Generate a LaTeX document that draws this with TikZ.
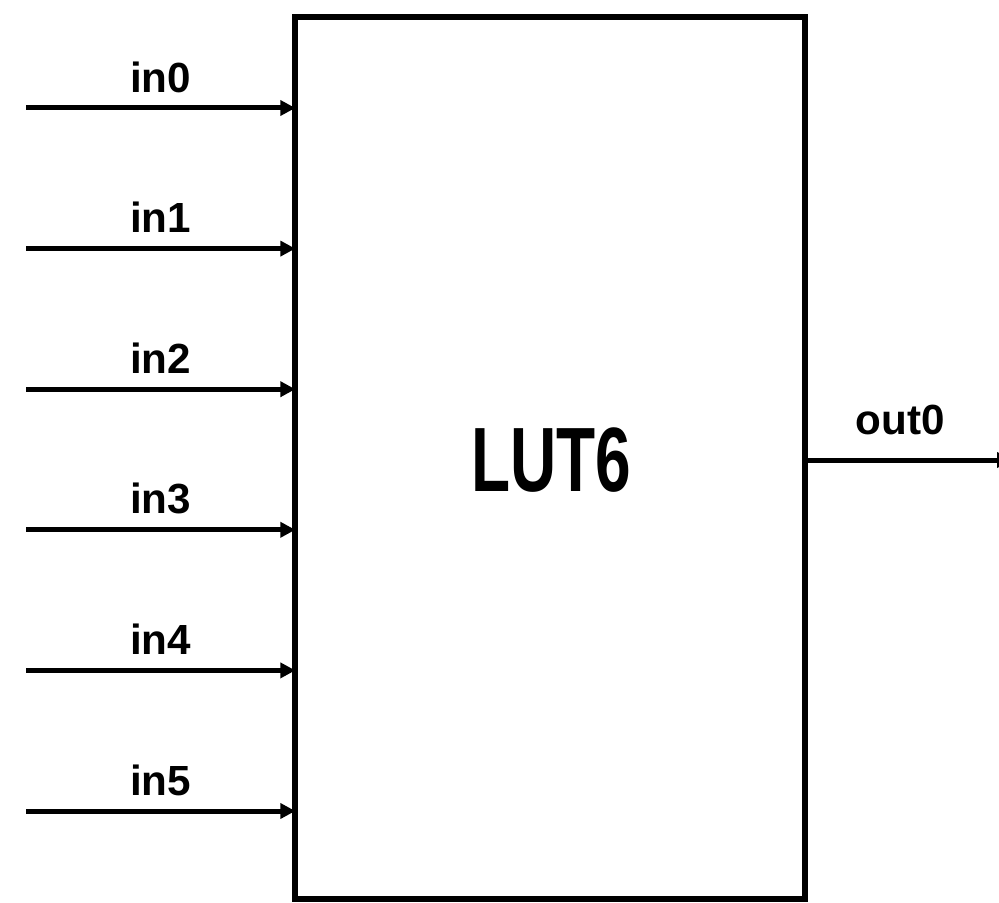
\documentclass[tikz,border=0pt]{standalone}
\usepackage{fontspec}
\setmainfont{Liberation Sans}
\usetikzlibrary{arrows.meta,positioning}

\tikzset{
    wire/.style={line width=0.1cm, -{Triangle[length=0.3cm,width=0.3cm]}},
    pinlabel/.style={font=\fontsize{24}{28}\selectfont\bfseries, inner sep=0pt, anchor=base},
}

\begin{document}
\begin{tikzpicture}[x=0.02cm,y=-0.02cm]
    \def\picwidth{999}
    \def\picheight{902}

    \useasboundingbox (0,0) rectangle (\picwidth,\picheight);
    \clip (0,0) rectangle (\picwidth,\picheight);

    % Draw the LUT block
    \node[draw, line width=0.12cm, minimum width=10.19cm, minimum height=17.64cm, inner sep=0pt] (lut) at (550,458) {};
    \node[font=\fontsize{52}{60}\selectfont\bfseries] (title) at (551,460) {\scalebox{0.7}[1]{LUT6}};

    % Inputs
    \foreach \i in {0,...,5} {
        \coordinate (src\i) at (26,{108+140.6*\i});
        \draw[wire] (src\i) -- ([xshift=0.06cm]lut.west |- src\i)
            node[pinlabel, pos=0.5, yshift=0.32cm] (in\i) {in\i};
    }

    % Output
    \coordinate (dst) at (1012,460);
    \draw[wire] (lut.east |- dst) -- (dst);
    \node[pinlabel] (out0) at (900,434) {out0};
\end{tikzpicture}
\end{document}
